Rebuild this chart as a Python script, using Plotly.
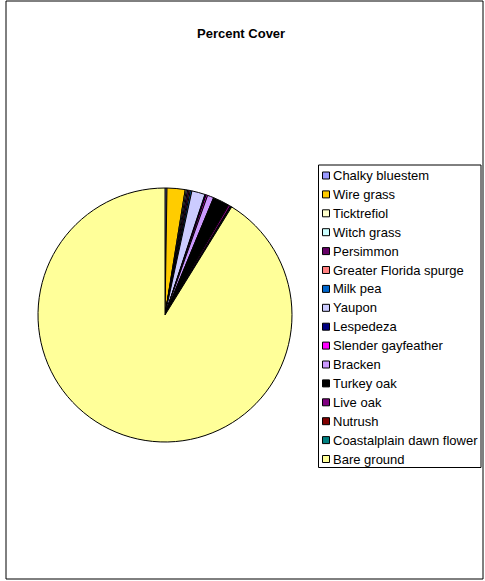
import plotly.graph_objects as go

labels = ["Chalky bluestem", "Wire grass", "Ticktrefiol", "Witch grass", "Persimmon",
          "Greater Florida spurge", "Milk pea", "Yaupon", "Lespedeza", "Slender gayfeather",
          "Bracken", "Turkey oak", "Live oak", "Nutrush", "Coastalplain dawn flower", "Bare ground"]
values = [0.25, 2.3, 0.15, 0.15, 0.2, 0.15, 0.2, 1.7, 0.15, 0.2, 0.8, 2.1, 0.25, 0.1, 0.1, 91.2]
colors = ["#9999FF", "#FFCC00", "#FFFFCC", "#CCFFFF", "#660066", "#FF8080", "#0066CC", "#CCCCFF",
          "#000080", "#FF00FF", "#CC99FF", "#000000", "#800080", "#800000", "#008080", "#FFFF99"]

W, H = 485, 581
def px(x): return x / W
def py(y): return 1 - y / H

fig = go.Figure(go.Pie(
    labels=labels, values=values, sort=False, direction="clockwise", rotation=0,
    marker=dict(colors=colors, line=dict(color="black", width=1)),
    textinfo="none", hoverinfo="label+value", showlegend=False,
    domain=dict(x=[px(38), px(292)], y=[py(442), py(188)]),
))

shapes = [dict(type="rect", xref="paper", yref="paper", x0=px(6), x1=px(483), y0=py(579), y1=py(1),
               line=dict(color="black", width=1), fillcolor="rgba(0,0,0,0)")]
shapes.append(dict(type="rect", xref="paper", yref="paper", x0=px(318.5), x1=px(481), y0=py(467.5), y1=py(165),
                   line=dict(color="black", width=1), fillcolor="white"))
annotations = [dict(text="<b>Percent Cover</b>", xref="paper", yref="paper", x=px(241), y=py(33),
                    showarrow=False, xanchor="center", yanchor="middle",
                    font=dict(family="Liberation Sans, Arial", size=13, color="black"))]
for i, (lab, col) in enumerate(zip(labels, colors)):
    cy = 175.5 + 18.9 * i
    shapes.append(dict(type="rect", xref="paper", yref="paper", x0=px(322.5), x1=px(329.5),
                       y0=py(cy + 3.5), y1=py(cy - 3.5), fillcolor=col,
                       line=dict(color="black", width=1)))
    annotations.append(dict(text=lab, xref="paper", yref="paper", x=px(331), y=py(cy),
                            showarrow=False, xanchor="left", yanchor="middle",
                            font=dict(family="Liberation Sans, Arial", size=13, color="black")))

fig.update_layout(width=W, height=H, margin=dict(l=0, r=0, t=0, b=0),
                  paper_bgcolor="white", plot_bgcolor="white",
                  shapes=shapes, annotations=annotations)
fig.write_html("out.html", config={"displayModeBar": False},
               post_script="document.body.style.margin='0';document.body.style.overflow='hidden';")
